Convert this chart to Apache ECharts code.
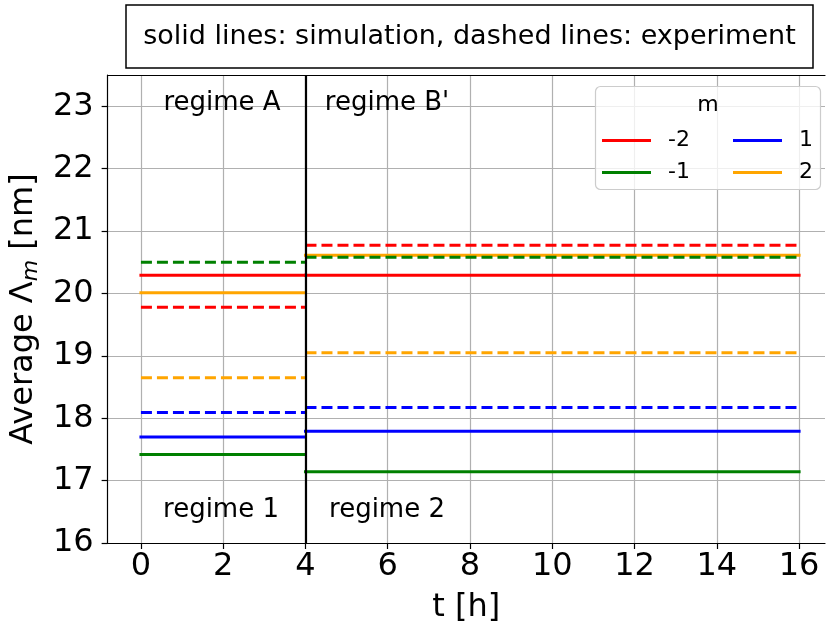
<!DOCTYPE html>
<html>
<head>
<meta charset="utf-8">
<script src="https://cdn.jsdelivr.net/npm/echarts@6/dist/echarts.min.js"></script>
<style>
html,body{margin:0;padding:0;background:#fff;}
#chart{width:826px;height:630px;}
</style>
</head>
<body>
<div id="chart"></div>
<script>
// ---- data ----
const mLabels = ['-2', '-1', '1', '2'];
const mColors = ['#ff0000', '#008000', '#0000ff', '#ffa500'];
const regimeA = [0, 4];
const regimeB = [4, 16];
const simA = [20.29, 17.42, 17.70, 20.01];
const simB = [20.29, 17.14, 17.79, 20.61];
const expA = [19.78, 20.50, 18.09, 18.65];
const expB = [20.77, 20.58, 18.17, 19.05];
const regimeBoundary = 4;
const xTicks = [0, 2, 4, 6, 8, 10, 12, 14, 16];
const yTicks = [16, 17, 18, 19, 20, 21, 22, 23];

const FONT = 'DejaVu Sans';
const chart = echarts.init(document.getElementById('chart'), null, {renderer: 'canvas'});

function seg(range, v) { return [[range[0], v], [range[1], v]]; }

const series = [];
// simulation (solid) first
mLabels.forEach((m, i) => {
  [[regimeA, simA[i]], [regimeB, simB[i]]].forEach(([r, v]) => {
    series.push({
      type: 'line', name: m, data: seg(r, v), showSymbol: false, symbol: 'none',
      color: mColors[i], z: 2,
      lineStyle: {color: mColors[i], width: 3, type: 'solid', cap: 'square'},
      silent: true, animation: false
    });
  });
});
// experiment (dashed)
mLabels.forEach((m, i) => {
  [[regimeA, expA[i]], [regimeB, expB[i]]].forEach(([r, v]) => {
    series.push({
      type: 'line', name: m + ' exp', data: seg(r, v), showSymbol: false, symbol: 'none',
      color: mColors[i], z: 3,
      lineStyle: {color: mColors[i], width: 3, type: [11, 5], cap: 'butt'},
      silent: true, animation: false
    });
  });
});
// regime boundary
series.push({
  type: 'line', name: 'boundary', data: [], z: 5, silent: true, animation: false,
  markLine: {
    silent: true, symbol: 'none', animation: false, label: {show: false},
    lineStyle: {color: '#000', width: 2.2, type: 'solid'},
    data: [{xAxis: regimeBoundary}]
  }
});

const legendCommon = {
  orient: 'vertical', icon: 'rect', itemWidth: 49, itemHeight: 3, itemGap: 9,
  padding: 0, selectedMode: false, z: 20,
  textStyle: {fontFamily: FONT, fontSize: 22, color: '#000', lineHeight: 23, padding: [0, 0, 0, 12]}
};

const X_MIN = -0.81, X_MAX = 16.63;

const option = {
  backgroundColor: '#fff',
  animation: false,
  grid: {left: 107, right: 1, top: 75, bottom: 87, show: false},
  xAxis: [{
    type: 'value', min: X_MIN, max: X_MAX,
    name: 't [h]', nameLocation: 'middle', nameGap: 49,
    nameTextStyle: {fontFamily: FONT, fontSize: 32, color: '#000'},
    axisLine: {show: true, onZero: false, lineStyle: {color: '#000', width: 1.2}},
    axisTick: {show: true, inside: false, length: 6, lineStyle: {color: '#000', width: 1.2}, customValues: xTicks},
    axisLabel: {fontFamily: FONT, fontSize: 32, color: '#000', margin: 8, customValues: xTicks},
    splitLine: {show: true, lineStyle: {color: '#b0b0b0', width: 1.2}}
  }, {
    type: 'value', position: 'top', min: X_MIN, max: X_MAX,
    axisLine: {show: true, onZero: false, lineStyle: {color: '#000', width: 1.2}},
    axisTick: {show: false}, axisLabel: {show: false}, splitLine: {show: false}
  }],
  yAxis: {
    type: 'value', min: 16, max: 23.5, interval: 1,
    name: '{a|Average Λ}{s|m}{a| [nm]}', nameLocation: 'middle', nameGap: 55, nameRotate: 90,
    nameTextStyle: {
      fontFamily: FONT, fontSize: 32, color: '#000',
      rich: {
        a: {fontFamily: FONT, fontSize: 32, color: '#000'},
        s: {fontFamily: FONT, fontSize: 22, fontStyle: 'italic', color: '#000', padding: [14, 0, 0, 0]}
      }
    },
    axisLine: {show: true, onZero: false, lineStyle: {color: '#000', width: 1.2}},
    axisTick: {show: true, inside: false, length: 6, lineStyle: {color: '#000', width: 1.2}, customValues: yTicks},
    axisLabel: {fontFamily: FONT, fontSize: 32, color: '#000', margin: 14, customValues: yTicks},
    splitLine: {show: true, lineStyle: {color: '#b0b0b0', width: 1.2}}
  },
  legend: [
    Object.assign({}, legendCommon, {data: [mLabels[0], mLabels[1]], left: 602, top: 129}),
    Object.assign({}, legendCommon, {data: [mLabels[2], mLabels[3]], left: 733, top: 129})
  ],
  graphic: [
    {type: 'rect', z: 10, shape: {x: 126, y: 5, width: 687, height: 63},
     style: {fill: '#fff', stroke: '#000', lineWidth: 1.5}},
    {type: 'text', z: 11, x: 469.5, y: 37,
     style: {text: 'solid lines: simulation, dashed lines: experiment', fontFamily: FONT, fontSize: 27, fill: '#000', align: 'center', verticalAlign: 'middle'}},
    {type: 'rect', z: 15, shape: {x: 595.5, y: 86.5, width: 225, height: 103, r: 5},
     style: {fill: 'rgba(255,255,255,0.8)', stroke: '#cccccc', lineWidth: 1.2}},
    {type: 'text', z: 16, x: 708, y: 105,
     style: {text: 'm', fontFamily: FONT, fontSize: 22, fill: '#000', align: 'center', verticalAlign: 'middle'}},
    {type: 'text', z: 11, x: 222, y: 103,
     style: {text: 'regime A', fontFamily: FONT, fontSize: 26, fill: '#000', align: 'center', verticalAlign: 'middle'}},
    {type: 'text', z: 11, x: 387, y: 103,
     style: {text: "regime B'", fontFamily: FONT, fontSize: 26, fill: '#000', align: 'center', verticalAlign: 'middle'}},
    {type: 'text', z: 11, x: 221, y: 510,
     style: {text: 'regime 1', fontFamily: FONT, fontSize: 26, fill: '#000', align: 'center', verticalAlign: 'middle'}},
    {type: 'text', z: 11, x: 387, y: 510,
     style: {text: 'regime 2', fontFamily: FONT, fontSize: 26, fill: '#000', align: 'center', verticalAlign: 'middle'}}
  ],
  series: series
};
chart.setOption(option);
</script>
</body>
</html>
